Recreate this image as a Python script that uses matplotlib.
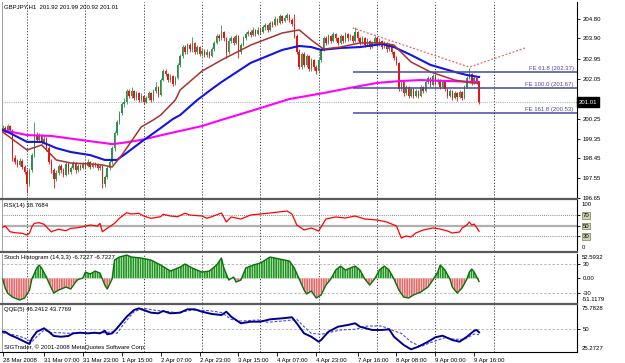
import numpy as np
import matplotlib.pyplot as plt
import matplotlib.transforms as mtrans
from matplotlib.lines import Line2D

plt.rcParams['font.family'] = ['Liberation Sans', 'DejaVu Sans']
plt.rcParams['hatch.linewidth'] = 0.45

# GBPJPY H1 candles, bar 0 = 28 Mar 2008 14:00
first_open = 199.80
closes = [199.85, 199.70, 199.90, 199.75, 198.45, 198.30, 198.15, 198.35, 198.05, 197.85,
          197.30, 197.90, 198.60, 199.50, 199.30, 199.45, 199.20, 199.35, 198.90, 198.30,
          197.90, 197.50, 197.80, 198.10, 197.90, 197.70, 198.20, 197.85, 198.00, 198.25,
          197.90, 198.10, 198.00, 198.20, 198.10, 198.30, 198.05, 198.20, 198.15, 198.00,
          198.10, 197.30, 197.60, 198.00, 198.30, 198.90, 199.60, 200.10, 200.50, 200.90,
          201.00, 201.50, 201.30, 201.50, 201.20, 201.40, 201.10, 201.30, 201.00, 201.20,
          201.40, 201.10, 201.50, 201.70, 201.35, 202.00, 202.40, 202.30, 202.00, 202.20,
          201.85, 202.10, 202.70, 203.10, 203.50, 203.30, 203.60, 203.40, 203.70, 203.30,
          203.50, 203.20, 203.35, 203.15, 203.30, 203.10, 203.40, 203.70, 204.00, 203.90,
          204.20, 203.90, 203.30, 203.80, 203.90, 203.70, 204.00, 203.30, 203.60, 203.90,
          204.10, 204.20, 204.05, 204.30, 204.10, 204.30, 204.20, 204.40, 204.50, 204.30,
          204.60, 204.50, 204.80, 204.60, 204.90, 204.70, 204.85, 204.95, 204.75, 204.55,
          204.00, 203.30, 202.60, 203.20, 202.70, 203.10, 202.50, 202.90, 202.60, 202.40,
          202.90, 203.40, 203.90, 203.70, 204.00, 203.80, 204.10, 203.90, 203.70, 204.00,
          203.80, 204.10, 203.90, 204.00, 203.80, 204.20, 203.90, 203.70, 203.90, 203.60,
          203.80, 203.50, 203.70, 203.90, 203.60, 203.80, 203.50, 203.70, 203.40, 203.60,
          203.30, 203.00, 202.80, 201.60, 201.90, 201.40, 201.70, 201.30, 201.60, 201.30,
          201.50, 201.30, 201.70, 201.50, 201.90, 202.10, 201.80, 202.20, 201.90, 202.00,
          201.70, 201.90, 201.60, 201.30, 201.50, 201.20, 201.40, 201.25, 201.45, 201.20,
          201.70, 202.10, 202.30, 201.90, 202.10, 201.92, 201.01]
highs = [199.95, 199.92, 200.00, 199.98, 199.80, 198.60, 198.40, 198.45, 198.40, 198.15,
         197.95, 198.00, 198.70, 200.10, 199.65, 199.60, 199.55, 199.50, 199.40, 199.00,
         198.40, 198.00, 197.90, 198.20, 198.20, 198.00, 198.30, 198.30, 198.10, 198.35,
         198.30, 198.20, 198.20, 198.30, 198.30, 198.40, 198.35, 198.30, 198.30, 198.25,
         198.20, 198.15, 197.70, 198.10, 198.40, 199.00, 199.70, 200.20, 200.60, 201.00,
         201.20, 201.60, 201.60, 201.70, 201.55, 201.50, 201.45, 201.40, 201.35, 201.30,
         201.50, 201.45, 201.60, 201.90, 201.75, 202.10, 202.50, 202.50, 202.35, 202.30,
         202.25, 202.20, 202.80, 203.20, 203.60, 203.60, 203.70, 203.70, 203.95, 203.75,
         203.60, 203.55, 203.45, 203.40, 203.40, 203.35, 203.50, 203.80, 204.10, 204.10,
         204.50, 204.25, 203.95, 203.90, 204.00, 204.00, 204.10, 204.05, 203.70, 204.00,
         204.20, 204.30, 204.30, 204.40, 204.35, 204.40, 204.40, 204.50, 204.60, 204.55,
         204.70, 204.70, 204.90, 204.85, 205.00, 204.95, 204.95, 205.05, 205.00, 204.85,
         205.00, 204.10, 203.40, 203.30, 203.30, 203.20, 203.15, 203.00, 202.95, 202.70,
         203.00, 203.50, 204.00, 204.00, 204.10, 204.05, 204.20, 204.15, 203.95, 204.10,
         204.05, 204.20, 204.15, 204.10, 204.05, 204.40, 204.25, 203.95, 204.00, 203.95,
         203.90, 203.85, 203.80, 204.00, 203.95, 203.90, 203.85, 203.80, 203.75, 203.70,
         203.65, 203.35, 203.10, 202.85, 202.00, 201.95, 201.80, 201.75, 201.70, 201.65,
         201.60, 201.55, 201.80, 201.75, 202.00, 202.20, 202.15, 202.30, 202.25, 202.10,
         202.05, 202.00, 201.95, 201.65, 201.60, 201.55, 201.50, 201.45, 201.55, 201.50,
         201.80, 202.20, 202.55, 202.35, 202.20, 202.15, 201.99]
lows = [199.70, 199.62, 199.65, 199.68, 198.35, 198.20, 198.05, 198.10, 197.95, 197.75,
        196.88, 197.20, 197.85, 198.50, 199.20, 199.20, 199.10, 199.10, 198.80, 198.20,
        197.80, 197.10, 197.40, 197.70, 197.80, 197.60, 197.65, 197.75, 197.75, 197.95,
        197.80, 197.85, 197.90, 197.95, 198.00, 198.05, 197.95, 198.00, 198.05, 197.90,
        197.90, 197.10, 197.15, 197.50, 197.90, 198.20, 198.80, 199.50, 200.00, 200.40,
        200.80, 200.90, 201.20, 201.20, 201.10, 201.10, 201.00, 201.00, 200.90, 200.95,
        201.10, 201.00, 201.05, 201.40, 201.25, 201.30, 201.95, 202.20, 201.90, 201.90,
        201.75, 201.80, 202.05, 202.60, 203.00, 203.20, 203.20, 203.30, 203.30, 203.20,
        203.20, 203.10, 203.10, 203.05, 203.05, 203.00, 203.05, 203.35, 203.65, 203.80,
        203.85, 203.80, 203.00, 203.20, 203.70, 203.60, 203.65, 203.00, 203.20, 203.55,
        203.85, 204.00, 203.95, 204.00, 204.00, 204.05, 204.10, 204.15, 204.30, 204.20,
        204.25, 204.40, 204.45, 204.50, 204.55, 204.60, 204.65, 204.75, 204.65, 204.45,
        203.90, 203.20, 202.50, 202.50, 202.60, 202.60, 202.40, 202.40, 202.45, 202.30,
        202.35, 202.85, 203.35, 203.60, 203.65, 203.70, 203.75, 203.80, 203.60, 203.65,
        203.70, 203.75, 203.80, 203.85, 203.70, 203.75, 203.80, 203.60, 203.65, 203.50,
        203.55, 203.40, 203.45, 203.65, 203.50, 203.55, 203.40, 203.45, 203.30, 203.35,
        203.20, 202.90, 202.70, 201.50, 201.50, 201.30, 201.35, 201.20, 201.25, 201.20,
        201.25, 201.20, 201.25, 201.40, 201.45, 201.85, 201.70, 201.75, 201.80, 201.85,
        201.60, 201.65, 201.50, 201.20, 201.25, 201.10, 201.15, 201.05, 201.20, 201.10,
        201.15, 201.65, 202.05, 201.80, 201.85, 201.85, 200.92]
opens = [first_open] + closes[:-1]

# moving averages (sampled)
ma_red_bar = [0, 10, 16, 22, 28, 36, 41, 45, 49, 57, 62, 65, 71, 73, 82, 90, 102, 115,
              122, 127, 132, 139, 147, 156, 161, 168, 176, 186, 193, 196]
ma_red = [199.65, 198.83, 199.06, 198.38, 198.24, 198.20, 198.15, 198.06, 198.60, 199.88,
          200.20, 200.42, 201.10, 201.56, 202.42, 202.92, 203.60, 204.15, 204.29, 203.83,
          203.42, 203.51, 203.70, 203.70, 203.60, 202.83, 202.38, 202.01, 201.88, 201.88]
ma_blue_bar = [0, 3, 10, 16, 22, 28, 36, 42, 47, 51, 57, 65, 70, 73, 80, 86, 90, 102, 115,
               122, 127, 131, 139, 147, 156, 161, 168, 176, 186, 191, 196]
ma_blue = [199.74, 199.60, 199.20, 199.20, 198.92, 198.74, 198.60, 198.38, 198.38, 198.70,
           199.20, 199.83, 200.24, 200.42, 201.10, 201.60, 201.92, 202.79, 203.38, 203.56,
           203.51, 203.38, 203.47, 203.51, 203.65, 203.51, 203.15, 202.70, 202.38, 202.24,
           202.15]
ma_mag_bar = [0, 10, 20, 32, 45, 49, 57, 69, 82, 90, 102, 118, 132, 145, 154, 164, 172, 196]
ma_mag = [199.74, 199.51, 199.47, 199.29, 199.10, 199.15, 199.29, 199.60, 199.92, 200.20,
          200.60, 201.15, 201.42, 201.70, 201.88, 201.97, 202.01, 201.92]

# fibo expansion + trend line
fe_levels = [202.37, 201.67, 200.53]
fe_names = ['FE 61.8 (202.37)', 'FE 100.0 (201.67)', 'FE 161.8 (200.53)']
fe_start = 144
trend_bar = [144, 192, 215]
trend_px = [204.38, 202.60, 203.47]
bid = 201.01

# 201.15 sits under the bid price box, so it is not shown
price_ticks = [204.80, 203.90, 202.95, 202.05, 200.25, 199.35, 198.45, 197.55, 196.65]

rsi_bar = [0, 1, 3, 5, 8, 10, 11, 12, 13, 15, 17, 19, 20, 21, 23, 26, 28, 31, 33, 36, 39, 40,
           41, 43, 46, 48, 51, 53, 56, 58, 61, 65, 66, 69, 72, 75, 77, 82, 84, 86, 90, 92, 94,
           98, 102, 106, 110, 117, 119, 121, 124, 127, 130, 133, 137, 141, 145, 149, 154, 158,
           162, 164, 166, 168, 170, 173, 177, 180, 183, 185, 188, 189, 191, 192, 193, 194, 196]
rsi = [46.5, 49, 37.8, 35.9, 34.7, 31.4, 34.7, 47.6, 54.3, 55.5, 52.4, 42.5, 37.3, 39.8, 42.5,
       39.8, 44.5, 45.7, 47.6, 51, 49, 54.3, 37.8, 44.5, 54.3, 64.1, 75.1, 72.5, 73.9, 68.6,
       64.1, 67.3, 72, 68.6, 67.3, 73.9, 70.6, 68.6, 64.1, 67.3, 74.5, 56.9, 66.7, 62.7, 70.6,
       72.5, 74.5, 78.4, 72.5, 51, 41.2, 45.1, 39.2, 62.7, 66.7, 64.7, 68.6, 62.7, 60.8, 56.9,
       49, 25.5, 29.4, 27.5, 35.3, 41.2, 45.1, 43.1, 39.2, 35.3, 37.3, 45.1, 51, 56.9, 51,
       52.9, 38.77]

st_bar = [0, 1, 2, 4, 7, 9, 11, 12, 14, 15, 16, 18, 19, 21, 23, 26, 28, 30, 31, 33, 34, 36, 38,
          40, 42, 43, 45, 46, 48, 51, 53, 57, 61, 65, 67, 69, 73, 75, 78, 82, 85, 88, 90, 91,
          93, 95, 96, 98, 100, 103, 106, 110, 114, 118, 120, 122, 124, 125, 127, 129, 131, 133,
          135, 137, 139, 141, 143, 145, 147, 149, 151, 153, 155, 157, 159, 161, 163, 165, 167,
          169, 172, 175, 177, 179, 180, 182, 184, 185, 187, 189, 191, 192, 193, 194, 196]
stoch = [-1.5, -20.5, -31.1, -39.6, -45.9, -41.7, -24.8, -1.5, 21.8, 28.1, 21.8, 2.8, -9.9,
         -31.1, -24.8, -18.4, -22.6, -7.8, -2.5, 0.6, 13.3, 9.1, 15.4, 11.2, -14.2, -22.6, -1.5,
         38.7, 45.1, 49.3, 45.1, 43, 38.7, 28.1, 21.8, 15.4, 23.9, 30.3, 21.8, 13.3, 15.4, 28.1,
         43, 21.8, -3.6, 2.8, -7.8, -3.6, 21.8, 28.1, 32.4, 45.1, 40.8, 36.6, 21.8, -1.5, -24.8,
         -33.2, -26.9, -41.7, -35.3, -14.2, -1.5, 17.6, 26, 17.6, 21.8, 26, 17.6, -1.5, -14.2,
         -1.5, 17.6, 26, 17.6, -1.5, -24.8, -39.6, -41.7, -35.3, -29, -18.4, -3.6, 13.3, 28.1,
         17.6, -1.5, -18.4, -31.1, -20.5, -1.5, 13.3, 19.7, 13.3, -6.72]

qqe_bar = [0, 1, 3, 6, 9, 11, 12, 14, 17, 19, 21, 24, 27, 29, 32, 35, 38, 40, 42, 43, 45, 47,
           51, 54, 56, 58, 61, 64, 66, 69, 73, 76, 79, 82, 86, 90, 92, 94, 98, 102, 106, 110,
           115, 119, 121, 124, 127, 130, 131, 134, 138, 142, 145, 147, 152, 156, 159, 161, 165,
           168, 171, 175, 178, 181, 185, 188, 191, 194, 195, 196]
qqe = [46.8, 46.8, 43.4, 40.1, 36.2, 33.8, 39.8, 46.8, 50.5, 46.8, 42.3, 41.5, 42.3, 45.1,
       45.8, 45.1, 45.8, 45.1, 47.9, 44.1, 45.1, 50.5, 62.8, 69.9, 71.7, 69.9, 67.1, 66.4,
       68.9, 66.4, 67.1, 70.7, 70.7, 68.1, 65.7, 64.6, 68.1, 62.8, 55.8, 57.5, 57.5, 60, 61.1,
       62.2, 55.8, 45.1, 41.5, 36.2, 38, 46.8, 52.2, 54, 55.8, 52.2, 48.7, 48.7, 49.4, 41.5,
       32.7, 28.1, 30.9, 36.2, 40.9, 42.6, 38, 36.2, 41.5, 47.9, 48.7, 46.24]
qqe_sig_bar = [0, 5, 9, 12, 14, 17, 20, 23, 27, 31, 36, 42, 45, 47, 50, 54, 58, 62, 68, 72,
               78, 85, 90, 94, 98, 105, 109, 115, 119, 121, 124, 127, 131, 134, 139, 145, 150,
               156, 160, 164, 168, 172, 176, 182, 186, 190, 194, 196]
qqe_sig = [45.5, 43.4, 40.1, 36.2, 41.5, 48.7, 45.8, 45.8, 45.1, 45.8, 45.1, 45.8, 46.8, 45.1,
           55.8, 68.1, 71.7, 69.9, 68.1, 67.1, 69.9, 69.2, 67.3, 60, 58.2, 59.3, 56.9, 58.2,
           59.3, 60, 52.2, 45.1, 44.1, 45.8, 48.7, 49.4, 52.9, 52.9, 48.7, 45, 36, 31, 35.2,
           40.5, 38.8, 38.8, 44.4, 43.78]

day_bars = [10, 34, 58, 82, 106, 130, 154, 178, 202]
label_bars = [0, 17, 33, 49, 65, 81, 97, 113, 129, 146, 162, 178, 194]
label_text = ['28 Mar 2008', '31 Mar 07:00', '31 Mar 23:00', '1 Apr 15:00', '2 Apr 07:00',
              '2 Apr 23:00', '3 Apr 15:00', '4 Apr 07:00', '4 Apr 23:00', '7 Apr 16:00',
              '8 Apr 08:00', '9 Apr 00:00', '9 Apr 16:00']

W, H = 625, 363
FS = 4.3
fig = plt.figure(figsize=(W / 100, H / 100), dpi=100)


def px_axes(top, bottom):
    return fig.add_axes([2 / W, 1 - bottom / H, 575 / W, (bottom - top) / H])


ax = px_axes(2, 198)
ax_rsi = px_axes(200, 251)
ax_st = px_axes(253.5, 302.5)
ax_q = px_axes(304.5, 352)
axes = [ax, ax_rsi, ax_st, ax_q]

for a in axes:
    a.set_xlim(-0.3, 236.3)
    a.set_facecolor('white')
    for s in ['top', 'bottom']:
        a.spines[s].set_visible(False)
    a.spines['left'].set_color('#909090')
    a.spines['left'].set_linewidth(0.6)
    a.spines['right'].set_color('black')
    a.spines['right'].set_linewidth(0.8)
    a.yaxis.tick_right()
    a.tick_params(axis='y', labelsize=FS, length=2.5, width=0.6, pad=1.5, colors='black')
    a.tick_params(axis='x', bottom=False, labelbottom=False)
    for d in day_bars:
        a.axvline(d, color='#404040', lw=0.7, ls=(0, (1.2, 1.8)), zorder=1)

# candles
x = np.arange(len(closes))
o = np.array(opens)
c = np.array(closes)
up = c >= o
col = np.where(up, '#2F8F4F', '#F01010')
ax.vlines(x, lows, highs, colors=col, lw=0.6, zorder=3)
ax.bar(x, c - o, bottom=o, width=0.62, color=col, linewidth=0, zorder=4)

ax.plot(ma_mag_bar, ma_mag, color='#FF00FF', lw=1.5, zorder=5)
ax.plot(ma_blue_bar, ma_blue, color='#1414E6', lw=1.5, zorder=5)
ax.plot(ma_red_bar, ma_red, color='#A83232', lw=1.1, zorder=5)

for lvl, name in zip(fe_levels, fe_names):
    ax.hlines(lvl, fe_start, 236.3, color='#4848A0', lw=1.1, zorder=6)
    ax.text(0.994, lvl + 0.03, name, transform=mtrans.blended_transform_factory(ax.transAxes, ax.transData),
            ha='right', va='bottom', fontsize=FS, color='#4848A0', zorder=7)
ax.plot(trend_bar, trend_px, color='#F06060', lw=0.9, ls=(0, (1.5, 1.5)), zorder=6)
ax.axhline(bid, color='#B8B8B8', lw=0.8, ls=(0, (1, 1)), zorder=2)

ax.set_ylim(196.65, 196.65 + 196 / 22)
ax.set_yticks(price_ticks)
ax.set_yticklabels(['%.2f' % t for t in price_ticks])
ax.text(1.003, bid, '%.2f' % bid, transform=mtrans.blended_transform_factory(ax.transAxes, ax.transData),
        ha='left', va='center', fontsize=FS, color='white', zorder=10, clip_on=False,
        bbox=dict(boxstyle='square,pad=0.35', facecolor='black', edgecolor='black'))

# RSI
ax_rsi.plot(rsi_bar, rsi, color='#FF0000', lw=0.9, zorder=4)
ax_rsi.set_ylim(0, 100)
ax_rsi.axhline(70, color='#606060', lw=0.6, ls=(0, (1, 1.5)))
ax_rsi.axhline(30, color='#606060', lw=0.6, ls=(0, (1, 1.5)))
ax_rsi.axhline(50, color='#B0B0B0', lw=1.6)
ax_rsi.set_yticks([70, 50, 30])
ax_rsi.set_yticklabels(['70', '50', '30'])
for lbl in ax_rsi.get_yticklabels():
    lbl.set_bbox(dict(boxstyle='square,pad=0.15', facecolor='#CDD3B0', edgecolor='#7A8050', lw=0.5))

# Stoch histogram
ax_st.set_ylim(-51.1179, 52.5932)
sb = np.array(st_bar)
sv = np.array(stoch)
ax_st.fill_between(sb, 0, sv, where=sv >= 0, interpolate=True, facecolor='#1F961F',
                   edgecolor='white', hatch='|||||||', linewidth=0, zorder=2)
ax_st.fill_between(sb, 0, sv, where=sv <= 0, interpolate=True, facecolor='#E26A6A',
                   edgecolor='white', hatch='|||||||', linewidth=0, zorder=2)
ax_st.plot(sb, sv, color='#0A700A', lw=1.0, zorder=4)
ax_st.axhline(30, color='#B0B0B0', lw=0.6, ls=(0, (3, 2)), zorder=1)
ax_st.axhline(-30, color='#B0B0B0', lw=0.6, ls=(0, (3, 2)), zorder=1)
ax_st.set_yticks([30, 0, -30])
ax_st.set_yticklabels(['30', '0.00', '-30'])

# QQE
ax_q.set_ylim(25.2727, 75.7828)
ax_q.axhline(50, color='#B0B0B0', lw=0.6, ls=(0, (3, 2)), zorder=1)
ax_q.plot(qqe_sig_bar, qqe_sig, color='#4848F0', lw=0.8, ls=(0, (2.5, 1.5)), zorder=3)
ax_q.plot(qqe_bar, qqe, color='#00008C', lw=1.4, zorder=4)
ax_q.set_yticks([50])
ax_q.set_yticklabels(['50'])
ax_q.set_xticks(label_bars)
ax_q.set_xticklabels(label_text, ha='left')
ax_q.tick_params(axis='x', bottom=True, labelbottom=True, labelsize=FS, length=3, width=0.6,
                 pad=1, direction='out')

# edge labels on the right scale
edge = [(ax_rsi, '100', '0'), (ax_st, '52.5932', '-51.1179'), (ax_q, '75.7828', '25.2727')]
for a, top_lbl, bot_lbl in edge:
    a.text(1.008, 0.97, top_lbl, transform=a.transAxes, ha='left', va='top', fontsize=FS)
    a.text(1.008, 0.02, bot_lbl, transform=a.transAxes, ha='left', va='bottom', fontsize=FS)


def ftext(px, py, s, **kw):
    fig.text(px / W, 1 - py / H, s, fontsize=FS, va='center', ha='left', **kw)


ftext(4, 7, 'GBPJPY,H1  201.92 201.99 200.92 201.01')
ftext(4, 205, 'RSI(14) 38.7684')
ftext(4, 258, 'Stoch Histogram (14,3,3) -6.7227 -6.7227')
ftext(4, 310, 'QQE(5) 46.2412 43.7769')
ftext(4, 347, 'SIGTrader, © 2001-2008 MetaQuotes Software Corp.')

# panel separators
for yy in [199, 252, 303.5]:
    fig.add_artist(Line2D([0, 577 / W], [1 - yy / H] * 2, transform=fig.transFigure,
                          color='#5A5A5A', lw=1.6))
fig.add_artist(Line2D([0, 577 / W], [1 - 352 / H] * 2, transform=fig.transFigure,
                      color='black', lw=0.8))

fig.savefig('out.png', dpi=100)
